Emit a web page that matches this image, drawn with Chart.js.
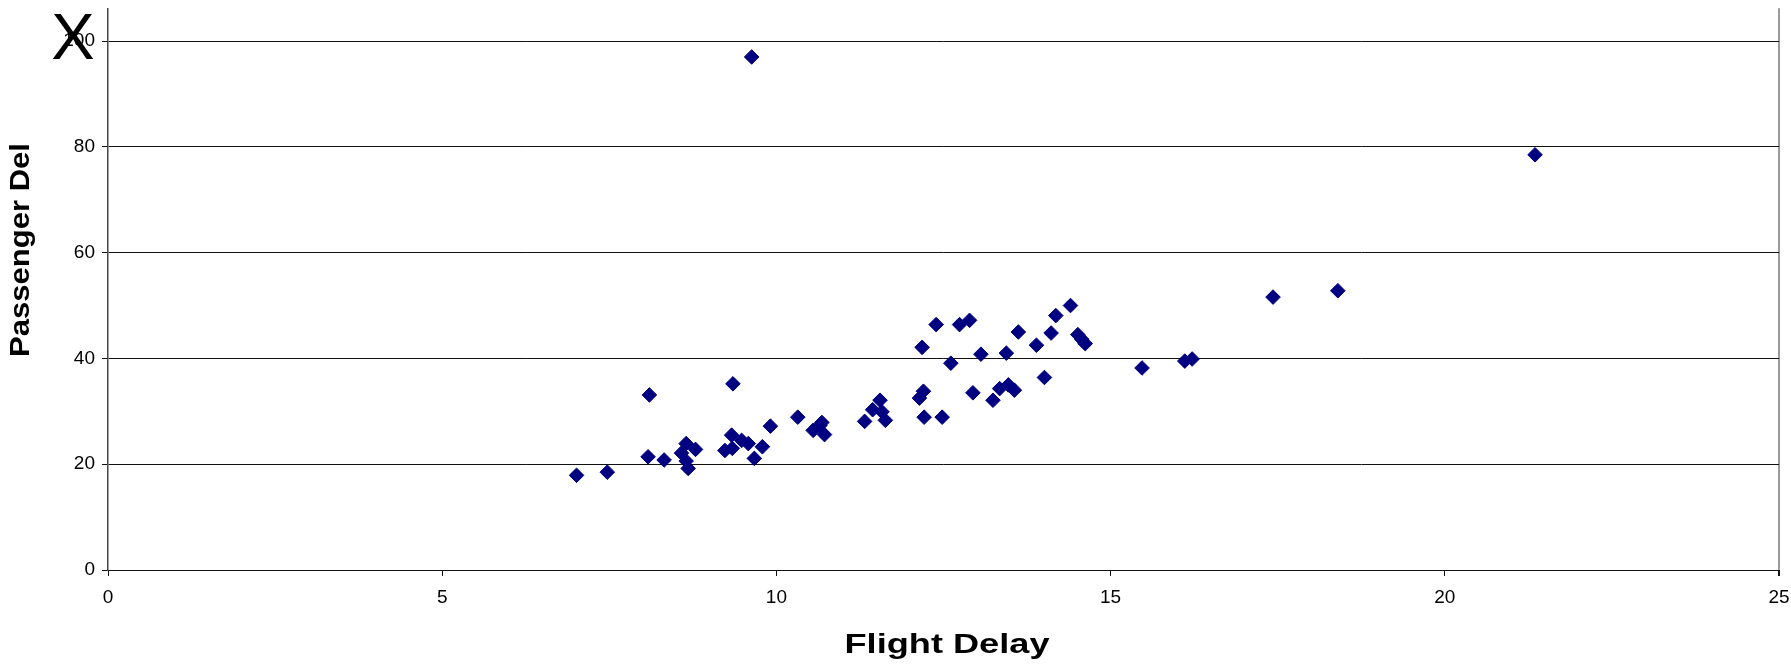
<!DOCTYPE html>
<html>
<head>
<meta charset="utf-8">
<script src="https://cdn.jsdelivr.net/npm/chart.js@4.4.1/dist/chart.umd.min.js"></script>
<style>
  html, body { margin: 0; padding: 0; background: #fff; }
  canvas { display: block; }
</style>
</head>
<body>
<canvas id="c" width="1791" height="668"></canvas>
<script>
// Flight delay (x) against passenger delay (y), one point per observation
const flightDelay = [
  7.01, 7.47, 8.08, 8.10, 8.32, 8.58, 8.65, 8.79, 8.65, 8.68,
  9.23, 9.33, 9.34, 9.35, 9.48, 9.58, 9.63, 9.67, 9.79, 9.91,
  10.32, 10.55, 10.65, 10.68, 10.72, 11.32, 11.44, 11.55, 11.58, 11.63,
  12.14, 12.18, 12.20, 12.21, 12.39, 12.48, 12.61, 12.74, 12.89, 12.94,
  13.06, 13.24, 13.34, 13.44, 13.47, 13.56, 13.62, 13.89, 14.01, 14.11,
  14.18, 14.40, 14.51, 14.57, 14.62, 15.47, 16.11, 16.22, 17.43, 18.40,
  21.35
];
const passengerDelay = [
  17.9, 18.5, 21.4, 33.1, 20.8, 22.1, 23.9, 22.8, 20.6, 19.2,
  22.6, 25.5, 23.0, 35.2, 24.5, 23.9, 97.0, 21.1, 23.3, 27.2,
  28.9, 26.4, 27.3, 27.9, 25.6, 28.1, 30.3, 32.1, 29.9, 28.3,
  32.5, 42.1, 33.8, 28.9, 46.4, 28.9, 39.1, 46.4, 47.2, 33.5,
  40.8, 32.1, 34.3, 41.0, 35.0, 34.0, 45.0, 42.5, 36.4, 44.8,
  48.1, 50.0, 44.5, 43.6, 42.8, 38.2, 39.5, 39.9, 51.6, 52.8,
  78.5
];

const xTicks = [0, 5, 10, 15, 20, 25];
const yTicks = [0, 20, 40, 60, 80, 100];

const xTitle = 'Flight Delay';
const yTitle = 'Passenger Del';
const cornerMark = 'X';

const FONT = '"Liberation Sans", Arial, Helvetica, sans-serif';

// Axis titles are drawn with a horizontal stretch, plus the large corner mark
const titlesPlugin = {
  id: 'axisTitles',
  afterDraw(chart) {
    const ctx = chart.ctx;
    ctx.save();
    ctx.fillStyle = '#000';
    ctx.textAlign = 'center';
    ctx.textBaseline = 'alphabetic';

    ctx.font = 'bold 27px ' + FONT;
    let w = ctx.measureText(xTitle).width;
    ctx.save();
    ctx.translate(947, 653);
    ctx.scale(205 / w, 1);
    ctx.fillText(xTitle, 0, 0);
    ctx.restore();

    ctx.font = 'bold 27px ' + FONT;
    w = ctx.measureText(yTitle).width;
    ctx.save();
    ctx.translate(29, 250);
    ctx.rotate(-Math.PI / 2);
    ctx.scale(214 / w, 1);
    ctx.fillText(yTitle, 0, 0);
    ctx.restore();

    ctx.font = '65px ' + FONT;
    ctx.fillText(cornerMark, 73, 59);
    ctx.restore();
  }
};

const points = flightDelay.map((x, i) => ({ x: x, y: passengerDelay[i] }));

new Chart(document.getElementById('c'), {
  type: 'scatter',
  data: {
    datasets: [{
      data: points,
      pointStyle: 'rectRot',
      pointRadius: 7.3,
      pointHoverRadius: 7.3,
      backgroundColor: '#000080',
      borderColor: '#000080',
      borderWidth: 1
    }]
  },
  options: {
    responsive: false,
    animation: false,
    layout: { padding: { top: 7, right: 12, left: 0, bottom: 0 } },
    plugins: {
      legend: { display: false },
      tooltip: { enabled: false },
      title: { display: false }
    },
    scales: {
      x: {
        type: 'linear',
        min: 0,
        max: 25,
        afterBuildTicks: (scale) => { scale.ticks = xTicks.map(v => ({ value: v })); },
        afterFit: (scale) => {
          scale.height = 98;
          scale.paddingLeft = 0;
          scale.paddingRight = 0;
        },
        ticks: {
          color: '#000',
          font: { family: FONT, size: 19 },
          padding: 10,
          maxRotation: 0,
          autoSkip: false
        },
        grid: {
          drawOnChartArea: true,
          drawTicks: true,
          tickLength: 6,
          tickColor: '#111',
          color: (c) => (c.tick && c.tick.value === 25 ? '#9a9a9a' : 'rgba(0,0,0,0)'),
          lineWidth: (c) => (c.tick && c.tick.value === 25 ? 2 : 1)
        },
        border: { display: true, color: '#111', width: 1 }
      },
      y: {
        type: 'linear',
        min: 0,
        max: 106.2,
        afterBuildTicks: (scale) => { scale.ticks = yTicks.map(v => ({ value: v })); },
        afterFit: (scale) => {
          scale.width = 108;
          scale.paddingTop = 0;
          scale.paddingBottom = 0;
        },
        ticks: {
          color: '#000',
          font: { family: FONT, size: 19 },
          padding: 7
        },
        grid: {
          drawOnChartArea: true,
          drawTicks: true,
          tickLength: 6,
          tickColor: '#111',
          color: (c) => (c.tick && c.tick.value === 0 ? 'rgba(0,0,0,0)' : '#111'),
          lineWidth: 1
        },
        border: { display: true, color: '#444', width: 1.5 }
      }
    }
  },
  plugins: [titlesPlugin]
});
</script>
</body>
</html>
